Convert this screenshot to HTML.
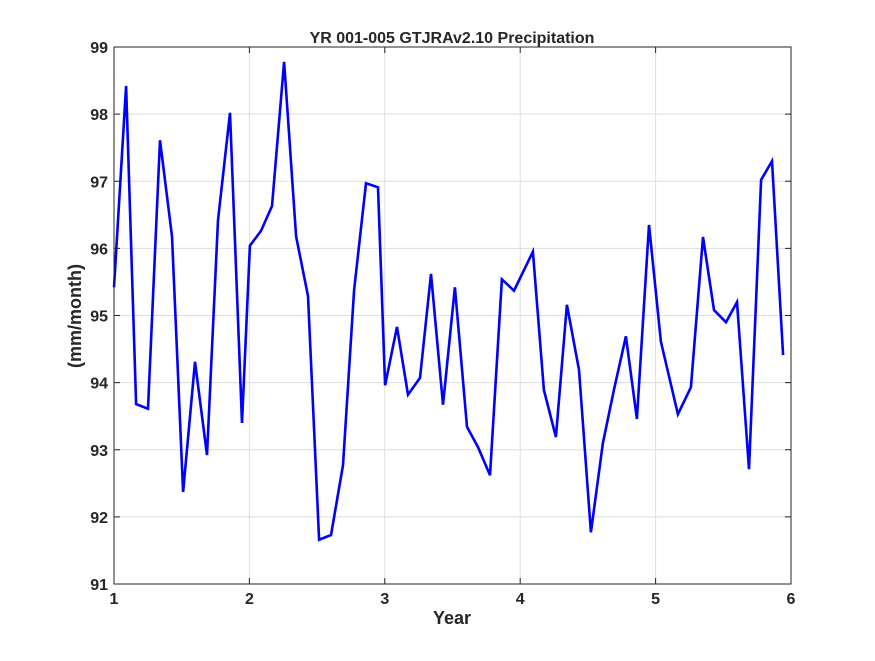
<!DOCTYPE html>
<html><head><meta charset="utf-8"><style>
html,body{margin:0;padding:0;background:#fff;}
svg text{font-family:"Liberation Sans","DejaVu Sans",sans-serif;font-weight:bold;fill:#262626;}
</style></head><body>
<svg id="chart" width="875" height="656" viewBox="0 0 875 656" xmlns="http://www.w3.org/2000/svg">
<rect x="0" y="0" width="875" height="656" fill="#fff"/>
<g id="grid"></g>
<g id="series"></g>
<rect x="114" y="47" width="677" height="537" fill="none" stroke="#262626" stroke-width="1"/>
<g id="ticks"></g>
<text x="452" y="43" text-anchor="middle" font-size="16">YR 001-005 GTJRAv2.10 Precipitation</text>
<text x="452" y="624" text-anchor="middle" font-size="18">Year</text>
<text transform="translate(81,316) rotate(-90)" text-anchor="middle" font-size="18">(mm/month)</text>
</svg>
<script>
const years = [1.0,1.089,1.163,1.251,1.34,1.428,1.51,1.598,1.687,1.768,1.857,1.945,2.004,2.086,2.167,2.256,2.345,2.433,2.515,2.603,2.691,2.773,2.861,2.95,3.002,3.09,3.171,3.26,3.341,3.43,3.518,3.607,3.688,3.777,3.865,3.954,4.094,4.175,4.264,4.345,4.434,4.522,4.611,4.692,4.781,4.862,4.951,5.039,5.165,5.261,5.35,5.431,5.52,5.601,5.69,5.779,5.86,5.942];
const precip = [95.42,98.42,93.68,93.61,97.61,96.18,92.37,94.31,92.92,96.42,98.02,93.40,96.04,96.26,96.63,98.78,96.18,95.29,91.66,91.73,92.77,95.38,96.97,96.91,93.96,94.83,93.82,94.07,95.62,93.67,95.42,93.34,93.04,92.62,95.54,95.37,95.95,93.89,93.19,95.16,94.19,91.77,93.10,93.89,94.69,93.46,96.35,94.61,93.53,93.93,96.17,95.08,94.90,95.20,92.71,97.02,97.30,94.41];
const xTicks = [1,2,3,4,5,6];
const yTicks = [91,92,93,94,95,96,97,98,99];
const L=114,R=791,T=47,B=584;
const xs = v => L + (v-1)/5*(R-L);
const ys = v => B - (v-91)/8*(B-T);
const NS="http://www.w3.org/2000/svg";
const grid=document.getElementById('grid'), ticks=document.getElementById('ticks'), series=document.getElementById('series');
function mk(tag,attrs){const e=document.createElementNS(NS,tag);for(const k in attrs)e.setAttribute(k,attrs[k]);return e;}
xTicks.forEach(t=>{
  const x=xs(t);
  const g=mk('line',{x1:x,x2:x,y1:T,y2:B,stroke:'#dedede','stroke-width':1});
  
  
  grid.appendChild(g);
  const tk=mk('path',{d:`M${x},${B}v-6M${x},${T}v6`,stroke:'#262626','stroke-width':1});
  
  
  ticks.appendChild(tk);
  const lb=mk('text',{x:x,y:604,'text-anchor':'middle','font-size':16});
  
  
  lb.textContent=t;ticks.appendChild(lb);
});
yTicks.forEach(t=>{
  const y=ys(t);
  const g=mk('line',{x1:L,x2:R,y1:y,y2:y,stroke:'#dedede','stroke-width':1});
  
  
  grid.appendChild(g);
  const tk=mk('path',{d:`M${L},${y}h6M${R},${y}h-6`,stroke:'#262626','stroke-width':1});
  
  
  ticks.appendChild(tk);
  const lb=mk('text',{x:L-6,y:y+6,'text-anchor':'end','font-size':16});
  
  
  lb.textContent=t;ticks.appendChild(lb);
});
const pts=years.map((v,i)=>xs(v).toFixed(1)+','+ys(precip[i]).toFixed(1)).join(' ');
const line=mk('polyline',{points:pts,fill:'none',stroke:'#0000ff','stroke-width':2.6,'stroke-linejoin':'miter'});


series.appendChild(line);
</script>
</body></html>
